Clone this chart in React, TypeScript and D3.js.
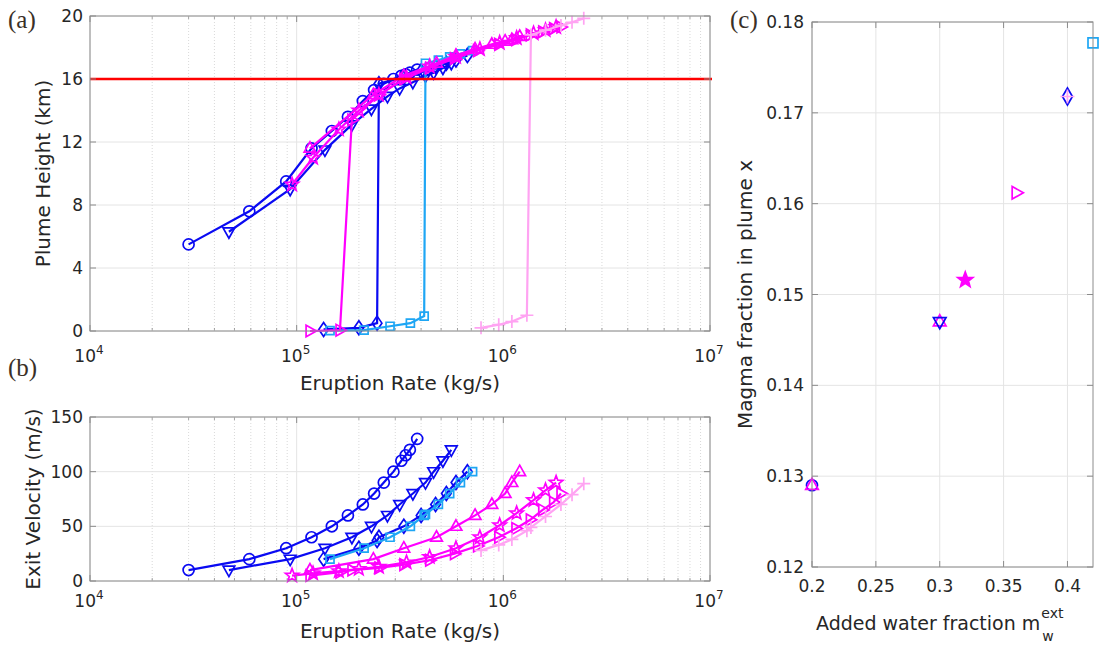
import React, { useEffect, useRef } from 'react';
import * as d3 from 'd3';

// eruption rate (kg/s), plume height (km) and exit velocity (m/s) for each run
const circleRate = [3.0e4, 5.9e4, 8.9e4, 1.18e5, 1.48e5, 1.77e5, 2.09e5, 2.37e5, 2.64e5, 2.94e5, 3.21e5, 3.37e5, 3.53e5, 3.83e5];
const circleHeight = [5.5, 7.6, 9.5, 11.6, 12.7, 13.6, 14.6, 15.3, 15.7, 16.0, 16.2, 16.3, 16.4, 16.6];
const circleVel = [10, 20, 30, 40, 50, 60, 70, 80, 90, 100, 110, 115, 120, 130];

const triDownRate = [4.7e4, 9.3e4, 1.37e5, 1.85e5, 2.3e5, 2.75e5, 3.15e5, 3.65e5, 4.2e5, 4.6e5, 5.1e5, 5.6e5];
const triDownHeight = [6.3, 9.0, 11.5, 13.1, 14.1, 14.9, 15.4, 15.8, 16.2, 16.4, 16.7, 17.0];
const triDownVel = [10, 20, 30, 40, 50, 60, 70, 80, 90, 100, 110, 120];

const diamondRate = [1.35e5, 2.0e5, 2.45e5, 2.5e5, 3.3e5, 4.0e5, 4.7e5, 5.3e5, 5.9e5, 6.7e5];
const diamondHeight = [0.1, 0.2, 0.5, 15.7, 16.1, 16.5, 16.8, 17.0, 17.2, 17.5];
const diamondVel = [20, 30, 37, 40, 50, 60, 70, 80, 90, 100];

const squareRate = [1.45e5, 2.12e5, 2.83e5, 3.55e5, 4.14e5, 4.2e5, 4.85e5, 5.5e5, 6.2e5, 7.1e5];
const squareHeight = [0.02, 0.06, 0.3, 0.5, 0.95, 17.0, 17.2, 17.4, 17.6, 17.8];
const squareVel = [20, 30, 40, 50, 60, 61, 70, 80, 90, 100];

const triUpRate = [1.16e5, 2.35e5, 3.3e5, 4.75e5, 5.9e5, 7.3e5, 8.8e5, 1.02e6, 1.1e6, 1.2e6];
const triUpHeight = [11.6, 15.0, 16.2, 17.0, 17.5, 17.9, 18.2, 18.4, 18.5, 18.7];
const triUpVel = [10, 20, 30, 40, 50, 60, 70, 80, 90, 100];

const starRate = [9.5e4, 1.2e5, 1.6e5, 2.0e5, 2.5e5, 3.4e5, 4.4e5, 5.9e5, 7.7e5, 9.6e5, 1.16e6, 1.4e6, 1.6e6, 1.8e6];
const starHeight = [9.3, 11.0, 12.8, 14.0, 15.0, 16.1, 16.8, 17.4, 17.9, 18.3, 18.6, 18.9, 19.1, 19.3];
const starVel = [5, 7, 9, 11, 13, 17, 22, 30, 40, 51, 62, 74, 83, 90];

const triRightRate = [1.16e5, 1.62e5, 1.85e5, 2.5e5, 3.3e5, 4.4e5, 5.8e5, 7.5e5, 9.5e5, 1.15e6, 1.35e6, 1.55e6, 1.75e6, 1.9e6];
const triRightHeight = [0.0, 0.05, 13.4, 15.0, 16.0, 16.7, 17.3, 17.8, 18.2, 18.5, 18.8, 19.0, 19.2, 19.3];
const triRightVel = [5, 8, 10, 12, 15, 19, 25, 32, 40, 48, 56, 65, 72, 80];

const plusRate = [7.8e5, 9.5e5, 1.1e6, 1.3e6, 1.36e6, 1.6e6, 1.9e6, 2.15e6, 2.45e6];
const plusHeight = [0.2, 0.4, 0.6, 1.0, 18.8, 19.1, 19.4, 19.6, 19.85];
const plusVel = [28, 33, 38, 46, 49, 59, 70, 79, 89];

const heightTicks = [0, 4, 8, 12, 16, 20];
const velTicks = [0, 50, 100, 150];
const rateDecades = [4, 5, 6, 7];
const targetHeight = 16;

// panel (c): added water fraction vs magma fraction
const waterFrac = [0.2, 0.2, 0.3, 0.3, 0.32, 0.36, 0.4, 0.4, 0.42];
const magmaFrac = [0.129, 0.129, 0.147, 0.147, 0.1516, 0.1612, 0.1718, 0.1718, 0.1777];
const waterMarker = ['circle', 'triUp', 'triUp', 'triDown', 'star', 'triRight', 'diamond', 'plus', 'square'];
const waterTicks = [0.2, 0.25, 0.3, 0.35, 0.4];
const magmaTicks = [0.12, 0.13, 0.14, 0.15, 0.16, 0.17, 0.18];

const FONT = 'DejaVu Sans, sans-serif';
const TXT = '#262626';
const FRAME = '#8c8c8c';
const BLUE = '#0a0af2';
const LIGHTBLUE = '#1ea6f4';
const MAGENTA = '#ff00ff';
const PINK = '#ffa3f2';

const markerColor: Record<string, string> = {
    circle: BLUE, triDown: BLUE, diamond: BLUE, square: LIGHTBLUE,
    triUp: MAGENTA, star: MAGENTA, triRight: MAGENTA, plus: PINK,
};

const series = [
    { marker: 'circle', rate: circleRate, height: circleHeight, vel: circleVel },
    { marker: 'triDown', rate: triDownRate, height: triDownHeight, vel: triDownVel },
    { marker: 'diamond', rate: diamondRate, height: diamondHeight, vel: diamondVel },
    { marker: 'square', rate: squareRate, height: squareHeight, vel: squareVel },
    { marker: 'triUp', rate: triUpRate, height: triUpHeight, vel: triUpVel },
    { marker: 'star', rate: starRate, height: starHeight, vel: starVel },
    { marker: 'triRight', rate: triRightRate, height: triRightHeight, vel: triRightVel },
    { marker: 'plus', rate: plusRate, height: plusHeight, vel: plusVel },
];

function markerPath(kind: string, big = false): string {
    const h = big ? 7 : 6.5;
    switch (kind) {
        case 'circle': {
            const r = 5.5;
            return `M${-r},0A${r},${r} 0 1,0 ${r},0A${r},${r} 0 1,0 ${-r},0Z`;
        }
        case 'square': {
            const a = big ? 5 : 4;
            return `M${-a},${-a}H${a}V${a}H${-a}Z`;
        }
        case 'diamond': {
            const t = big ? 8.5 : 7, w = big ? 5 : 4.8;
            return `M0,${-t}L${w},0L0,${t}L${-w},0Z`;
        }
        case 'triUp':
            return `M0,${-h}L${h * 0.9},${h * 0.6}L${-h * 0.9},${h * 0.6}Z`;
        case 'triDown':
            return `M0,${h}L${h * 0.9},${-h * 0.6}L${-h * 0.9},${-h * 0.6}Z`;
        case 'triRight':
            return `M${h},0L${-h * 0.6},${-h * 0.9}L${-h * 0.6},${h * 0.9}Z`;
        case 'star': {
            const R = big ? 8 : 7, r = R * 0.42;
            const pts = d3.range(10).map(i => {
                const a = -Math.PI / 2 + i * Math.PI / 5;
                const rr = i % 2 ? r : R;
                return [rr * Math.cos(a), rr * Math.sin(a)];
            });
            return 'M' + pts.map(p => p.join(',')).join('L') + 'Z';
        }
        case 'plus':
            return `M${-h},0H${h}M0,${-h}V${h}`;
    }
    return '';
}

function drawMarker(g: any, kind: string, x: number, y: number, big = false) {
    const color = markerColor[kind];
    g.append('path')
        .attr('d', markerPath(kind, big))
        .attr('transform', `translate(${x},${y})`)
        .attr('fill', kind === 'star' && big ? color : 'none')
        .attr('stroke', color)
        .attr('stroke-width', 1.7)
        .attr('stroke-linejoin', 'miter');
}

function drawLogPanel(svg: any, box: any, yDomain: number[], yTicks: number[], field: string,
    yLabel: string, yLabelX: number, tickBase: number, titleBase: number) {
    const x = d3.scaleLog().domain([1e4, 1e7]).range([box.left, box.right]);
    const y = d3.scaleLinear().domain(yDomain).range([box.bottom, box.top]);
    const g = svg.append('g');

    // minor grid (dotted) and major grid
    rateDecades.slice(0, -1).forEach(k => {
        d3.range(2, 10).forEach(m => {
            const px = x(m * Math.pow(10, k));
            g.append('line').attr('x1', px).attr('x2', px).attr('y1', box.top).attr('y2', box.bottom)
                .attr('stroke', '#cfcfcf').attr('stroke-width', 0.8).attr('stroke-dasharray', '1,2');
            [box.bottom, box.top].forEach((b, i) => {
                g.append('line').attr('x1', px).attr('x2', px)
                    .attr('y1', b).attr('y2', i === 0 ? b - 3 : b + 3)
                    .attr('stroke', FRAME).attr('stroke-width', 0.8);
            });
        });
    });
    rateDecades.forEach(k => {
        const px = x(Math.pow(10, k));
        g.append('line').attr('x1', px).attr('x2', px).attr('y1', box.top).attr('y2', box.bottom)
            .attr('stroke', '#e4e4e4').attr('stroke-width', 1);
    });
    yTicks.forEach(t => {
        g.append('line').attr('x1', box.left).attr('x2', box.right).attr('y1', y(t)).attr('y2', y(t))
            .attr('stroke', '#e4e4e4').attr('stroke-width', 1);
    });

    // series
    series.forEach(s => {
        const vals = (s as any)[field] as number[];
        const pts = s.rate.map((r, i) => [x(r), y(vals[i])]);
        g.append('path')
            .attr('d', d3.line()(pts as [number, number][]))
            .attr('fill', 'none')
            .attr('stroke', markerColor[s.marker])
            .attr('stroke-width', 2.2);
        pts.forEach(p => drawMarker(g, s.marker, p[0], p[1]));
    });

    if (field === 'height') {
        g.append('line').attr('x1', box.left).attr('x2', box.right + 2)
            .attr('y1', y(targetHeight)).attr('y2', y(targetHeight))
            .attr('stroke', '#ff0000').attr('stroke-width', 2.5);
    }

    // frame and ticks
    g.append('rect').attr('x', box.left).attr('y', box.top)
        .attr('width', box.right - box.left).attr('height', box.bottom - box.top)
        .attr('fill', 'none').attr('stroke', FRAME).attr('stroke-width', 1);
    rateDecades.forEach(k => {
        const px = x(Math.pow(10, k));
        g.append('line').attr('x1', px).attr('x2', px).attr('y1', box.bottom).attr('y2', box.bottom - 6)
            .attr('stroke', FRAME);
        g.append('line').attr('x1', px).attr('x2', px).attr('y1', box.top).attr('y2', box.top + 6)
            .attr('stroke', FRAME);
        const label = g.append('text').attr('x', px - 1).attr('y', tickBase)
            .attr('text-anchor', 'middle').attr('font-family', FONT).attr('font-size', 17).attr('fill', TXT);
        label.append('tspan').text('10');
        label.append('tspan').attr('dy', -8).attr('font-size', 12).text(String(k));
    });
    yTicks.forEach(t => {
        g.append('line').attr('x1', box.left).attr('x2', box.left + 6).attr('y1', y(t)).attr('y2', y(t))
            .attr('stroke', FRAME);
        g.append('line').attr('x1', box.right).attr('x2', box.right - 6).attr('y1', y(t)).attr('y2', y(t))
            .attr('stroke', FRAME);
        g.append('text').attr('x', box.left - 7).attr('y', y(t)).attr('dy', '0.36em')
            .attr('text-anchor', 'end').attr('font-family', FONT).attr('font-size', 17).attr('fill', TXT)
            .text(String(t));
    });

    g.append('text').attr('x', (box.left + box.right) / 2).attr('y', titleBase)
        .attr('text-anchor', 'middle').attr('font-family', FONT).attr('font-size', 20).attr('fill', TXT)
        .text('Eruption Rate (kg/s)');
    g.append('text')
        .attr('transform', `translate(${yLabelX},${(box.top + box.bottom) / 2}) rotate(-90)`)
        .attr('text-anchor', 'middle').attr('font-family', FONT).attr('font-size', 20).attr('fill', TXT)
        .text(yLabel);
}

function drawWaterPanel(svg: any) {
    const box = { left: 812, right: 1093, top: 22, bottom: 567 };
    const x = d3.scaleLinear().domain([0.2, 0.42]).range([box.left, box.right]);
    const y = d3.scaleLinear().domain([0.12, 0.18]).range([box.bottom, box.top]);
    const g = svg.append('g');

    waterTicks.forEach(t => {
        g.append('line').attr('x1', x(t)).attr('x2', x(t)).attr('y1', box.top).attr('y2', box.bottom)
            .attr('stroke', '#e4e4e4');
    });
    magmaTicks.forEach(t => {
        g.append('line').attr('x1', box.left).attr('x2', box.right).attr('y1', y(t)).attr('y2', y(t))
            .attr('stroke', '#e4e4e4');
    });

    waterFrac.forEach((w, i) => drawMarker(g, waterMarker[i], x(w), y(magmaFrac[i]), true));

    g.append('rect').attr('x', box.left).attr('y', box.top)
        .attr('width', box.right - box.left).attr('height', box.bottom - box.top)
        .attr('fill', 'none').attr('stroke', FRAME);
    waterTicks.forEach(t => {
        g.append('line').attr('x1', x(t)).attr('x2', x(t)).attr('y1', box.bottom).attr('y2', box.bottom - 6)
            .attr('stroke', FRAME);
        g.append('line').attr('x1', x(t)).attr('x2', x(t)).attr('y1', box.top).attr('y2', box.top + 6)
            .attr('stroke', FRAME);
        g.append('text').attr('x', x(t)).attr('y', 592).attr('text-anchor', 'middle')
            .attr('font-family', FONT).attr('font-size', 17).attr('fill', TXT).text(String(t));
    });
    magmaTicks.forEach(t => {
        g.append('line').attr('x1', box.left).attr('x2', box.left + 6).attr('y1', y(t)).attr('y2', y(t))
            .attr('stroke', FRAME);
        g.append('line').attr('x1', box.right).attr('x2', box.right - 6).attr('y1', y(t)).attr('y2', y(t))
            .attr('stroke', FRAME);
        g.append('text').attr('x', box.left - 8).attr('y', y(t)).attr('dy', '0.36em')
            .attr('text-anchor', 'end').attr('font-family', FONT).attr('font-size', 17).attr('fill', TXT)
            .text(t.toFixed(2));
    });

    g.append('text')
        .attr('transform', `translate(752,${(box.top + box.bottom) / 2}) rotate(-90)`)
        .attr('text-anchor', 'middle').attr('font-family', FONT).attr('font-size', 20).attr('fill', TXT)
        .text('Magma fraction in plume x');

    const title = g.append('text').attr('x', 816).attr('y', 630)
        .attr('font-family', FONT).attr('font-size', 19).attr('fill', TXT)
        .text('Added water fraction m');
    const end = 816 + (title.node() as SVGTextElement).getComputedTextLength();
    g.append('text').attr('x', end + 1).attr('y', 618)
        .attr('font-family', FONT).attr('font-size', 14).attr('fill', TXT).text('ext');
    g.append('text').attr('x', end + 2).attr('y', 641)
        .attr('font-family', FONT).attr('font-size', 14).attr('fill', TXT).text('w');
}

const App = () => {
    const ref = useRef<SVGSVGElement>(null);

    useEffect(() => {
        if (!ref.current) return;
        const svg = d3.select(ref.current);
        svg.selectAll('*').remove();

        svg.append('rect').attr('width', 1099).attr('height', 650).attr('fill', '#ffffff');

        drawLogPanel(svg, { left: 90, right: 710, top: 16, bottom: 331 }, [0, 20], heightTicks,
            'height', 'Plume Height (km)', 50, 362, 390);
        drawLogPanel(svg, { left: 90, right: 710, top: 417, bottom: 581 }, [0, 150], velTicks,
            'vel', 'Exit Velocity (m/s)', 40, 607, 638);
        drawWaterPanel(svg);

        // panel letters
        [['(a)', 8, 28], ['(b)', 8, 376], ['(c)', 730, 28]].forEach(([t, px, py]) => {
            svg.append('text').attr('x', px).attr('y', py)
                .attr('font-family', 'Liberation Serif, serif').attr('font-size', 25).attr('fill', '#3a3028')
                .text(t as string);
        });
    }, []);

    return <svg ref={ref} width={1099} height={650} style={{ position: 'absolute', left: 0, top: 0 }} />;
};

export default App;
